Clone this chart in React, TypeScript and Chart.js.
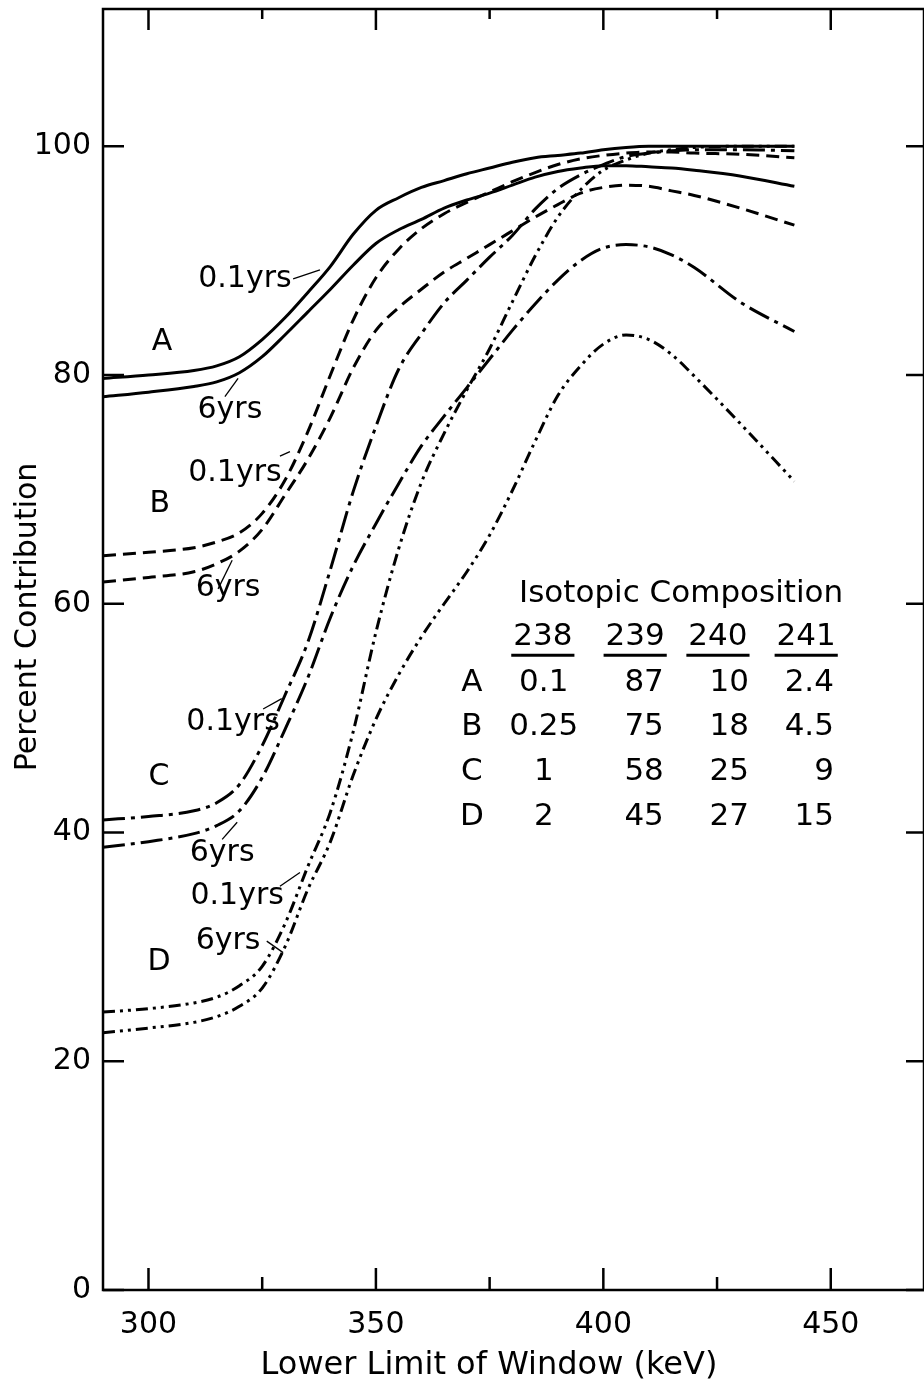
import React, { useEffect, useRef } from 'react';
import { Chart, registerables } from 'chart.js';

Chart.register(...registerables);

// ---- data ----
const KEV = [290, 300, 310, 315, 320, 325, 330, 335, 340, 345, 350, 355, 360, 365, 370, 375, 380, 385, 390, 395, 400, 405, 410, 415, 420, 430, 442];

const A_01 = [79.7, 80.0, 80.4, 80.8, 81.6, 83.1, 85.0, 87.2, 89.5, 92.3, 94.4, 95.5, 96.4, 97.0, 97.6, 98.1, 98.6, 99.0, 99.2, 99.4, 99.7, 99.9, 100, 100, 100, 100, 100];
const A_6 = [78.1, 78.5, 79.0, 79.4, 80.2, 81.6, 83.5, 85.5, 87.5, 89.6, 91.5, 92.7, 93.6, 94.6, 95.3, 95.9, 96.6, 97.3, 97.8, 98.1, 98.3, 98.3, 98.2, 98.1, 97.9, 97.4, 96.5];
const B_01 = [64.2, 64.5, 64.9, 65.4, 66.2, 67.9, 70.8, 75.0, 80.0, 84.8, 88.5, 91.0, 92.8, 94.1, 95.1, 96.0, 96.9, 97.7, 98.4, 98.9, 99.2, 99.4, 99.5, 99.5, 99.4, 99.3, 99.0];
const B_6 = [61.9, 62.3, 62.8, 63.5, 64.6, 66.5, 69.5, 72.6, 76.3, 80.6, 83.9, 85.9, 87.5, 89.0, 90.2, 91.4, 92.6, 93.8, 94.9, 95.9, 96.4, 96.6, 96.5, 96.1, 95.7, 94.6, 93.1];
const C_01 = [41.1, 41.4, 41.9, 42.6, 44.2, 47.6, 52.0, 56.6, 63.0, 69.8, 75.5, 80.5, 83.6, 86.3, 88.3, 90.3, 92.2, 94.5, 96.3, 97.5, 98.4, 99.1, 99.4, 99.6, 99.7, 99.7, 99.6];
const C_6 = [38.7, 39.2, 39.9, 40.6, 41.9, 44.8, 49.0, 53.5, 58.8, 63.3, 67.0, 70.5, 73.8, 76.4, 78.9, 81.4, 83.9, 86.2, 88.3, 90.0, 91.1, 91.4, 91.2, 90.5, 89.4, 86.4, 83.8];
const D_01 = [24.3, 24.6, 25.1, 25.6, 26.6, 28.3, 32.0, 37.0, 41.8, 48.8, 57.5, 64.8, 70.6, 74.9, 78.7, 82.3, 86.4, 90.4, 93.8, 96.2, 97.9, 98.8, 99.4, 99.7, 99.9, 100, 100];
const D_6 = [22.5, 22.9, 23.4, 23.9, 24.8, 26.4, 30.0, 35.0, 39.2, 45.0, 49.9, 53.8, 57.1, 60.0, 62.8, 66.0, 69.9, 74.2, 78.2, 80.8, 82.7, 83.5, 83.1, 81.8, 79.9, 75.8, 70.7];

const X_LABEL_TICKS = [300, 350, 400, 450];
const X_MINOR_TICKS = [325, 375, 425];
const Y_TICKS = [0, 20, 40, 60, 80, 100];

const TABLE_TITLE = 'Isotopic Composition';
const TABLE_HEADERS = ['238', '239', '240', '241'];
const TABLE_ROWS = ['A', 'B', 'C', 'D'];
const TABLE_238 = ['0.1', '0.25', '1', '2'];
const TABLE_239 = ['87', '75', '58', '45'];
const TABLE_240 = ['10', '18', '25', '27'];
const TABLE_241 = ['2.4', '4.5', '9', '15'];

const X_TITLE = 'Lower Limit of Window (keV)';
const Y_TITLE = 'Percent Contribution';

// ---- styling / layout ----
const FONT = '"DejaVu Sans", sans-serif';
const SERIES = [
  { label: 'A 0.1yrs', values: A_01, dash: [] as number[] },
  { label: 'A 6yrs', values: A_6, dash: [] as number[] },
  { label: 'B 0.1yrs', values: B_01, dash: [13, 7] },
  { label: 'B 6yrs', values: B_6, dash: [13, 7] },
  { label: 'C 0.1yrs', values: C_01, dash: [22, 6, 4, 6] },
  { label: 'C 6yrs', values: C_6, dash: [22, 6, 4, 6] },
  { label: 'D 0.1yrs', values: D_01, dash: [12, 5, 3, 5, 3, 5] },
  { label: 'D 6yrs', values: D_6, dash: [12, 5, 3, 5, 3, 5] },
];

// curve labels (data coordinates)
const CURVE_LABELS = [
  { text: '0.1yrs', x: 321.2, y: 88.4 },
  { text: 'A', x: 303.0, y: 82.9 },
  { text: '6yrs', x: 317.9, y: 76.9 },
  { text: '0.1yrs', x: 319.0, y: 71.4 },
  { text: 'B', x: 302.5, y: 68.7 },
  { text: '6yrs', x: 317.5, y: 61.4 },
  { text: '0.1yrs', x: 318.6, y: 49.6 },
  { text: 'C', x: 302.3, y: 44.8 },
  { text: '6yrs', x: 316.2, y: 38.2 },
  { text: '0.1yrs', x: 319.5, y: 34.4 },
  { text: '6yrs', x: 317.5, y: 30.5 },
  { text: 'D', x: 302.3, y: 28.7 },
];
const LEADERS = [
  [331.8, 88.4, 337.7, 89.2],
  [316.8, 78.1, 319.7, 79.7],
  [328.9, 72.9, 331.1, 73.3],
  [315.3, 61.3, 318.4, 63.8],
  [325.2, 50.8, 329.3, 51.7],
  [316.2, 39.4, 319.5, 40.9],
  [328.9, 35.3, 333.3, 36.5],
  [326.0, 30.5, 329.6, 29.5],
];

const overlayPlugin = {
  id: 'overlay',
  afterDraw(chart: any) {
    const { ctx, chartArea: a, scales } = chart;
    const xs = scales.x;
    const ys = scales.y;
    const X = (v: number) => xs.getPixelForValue(v);
    const Y = (v: number) => ys.getPixelForValue(v);
    ctx.save();
    ctx.strokeStyle = '#000';
    ctx.fillStyle = '#000';
    ctx.lineCap = 'butt';
    ctx.lineWidth = 2.5;
    ctx.strokeRect(a.left, a.top, a.right - a.left, a.bottom - a.top);
    const seg = (x1: number, y1: number, x2: number, y2: number) => {
      ctx.beginPath();
      ctx.moveTo(x1, y1);
      ctx.lineTo(x2, y2);
      ctx.stroke();
    };
    X_LABEL_TICKS.forEach((v) => {
      const px = X(v);
      seg(px, a.bottom, px, a.bottom - 22);
      seg(px, a.top, px, a.top + 21);
    });
    X_MINOR_TICKS.forEach((v) => {
      const px = X(v);
      seg(px, a.bottom, px, a.bottom - 13);
      seg(px, a.top, px, a.top + 10);
    });
    Y_TICKS.forEach((v) => {
      const py = Y(v);
      seg(a.left, py, a.left + 21, py);
      seg(a.right, py, a.right - 18, py);
    });

    // curve labels
    ctx.font = `30px ${FONT}`;
    ctx.textAlign = 'center';
    ctx.textBaseline = 'middle';
    CURVE_LABELS.forEach((l) => ctx.fillText(l.text, X(l.x), Y(l.y)));
    ctx.lineWidth = 1.3;
    LEADERS.forEach((s) => seg(X(s[0]), Y(s[1]), X(s[2]), Y(s[3])));

    // table
    ctx.font = `31px ${FONT}`;
    ctx.textAlign = 'center';
    ctx.fillText(TABLE_TITLE, X(417.1), Y(60.9));
    const headerX = [386.7, 407.0, 425.2, 444.6];
    ctx.lineWidth = 3;
    TABLE_HEADERS.forEach((h, i) => {
      ctx.textAlign = 'center';
      ctx.fillText(h, X(headerX[i]), Y(57.1));
      const w = ctx.measureText(h).width;
      seg(X(headerX[i]) - w / 2 - 2, Y(55.5), X(headerX[i]) + w / 2 + 2, Y(55.5));
    });
    const rowY = [53.1, 49.2, 45.3, 41.4];
    TABLE_ROWS.forEach((r, i) => {
      const py = Y(rowY[i]);
      ctx.textAlign = 'center';
      ctx.fillText(r, X(371.1), py);
      ctx.fillText(TABLE_238[i], X(386.9), py);
      ctx.textAlign = 'right';
      ctx.fillText(TABLE_239[i], X(413.3), py);
      ctx.fillText(TABLE_240[i], X(432.0), py);
      ctx.fillText(TABLE_241[i], X(450.7), py);
    });

    // axis titles
    ctx.font = `32px ${FONT}`;
    ctx.textAlign = 'center';
    ctx.fillText(X_TITLE, 489, 1366);
    ctx.save();
    ctx.translate(28, 617);
    ctx.rotate(-Math.PI / 2);
    ctx.font = `30px ${FONT}`;
    ctx.fillText(Y_TITLE, 0, 0);
    ctx.restore();
    ctx.restore();
  },
};

export default function App() {
  const ref = useRef<HTMLCanvasElement | null>(null);
  useEffect(() => {
    document.body.style.margin = '0';
    const canvas = ref.current;
    if (!canvas) return;
    const tickFont = { family: FONT, size: 30 };
    const chart = new Chart(canvas, {
      type: 'line',
      data: {
        datasets: SERIES.map((s) => ({
          label: s.label,
          data: KEV.map((x, i) => ({ x, y: s.values[i] })),
          borderColor: '#000',
          borderWidth: 3,
          borderDash: s.dash,
          pointRadius: 0,
          fill: false,
          cubicInterpolationMode: 'monotone' as const,
        })),
      },
      options: {
        responsive: false,
        animation: false,
        layout: { padding: { top: 9, right: 0, bottom: 0, left: 0 } },
        plugins: { legend: { display: false }, tooltip: { enabled: false } },
        scales: {
          x: {
            type: 'linear',
            min: 290,
            max: 470.5,
            grid: { display: false, drawTicks: false },
            border: { display: false },
            ticks: { stepSize: 50, includeBounds: false, padding: 17, color: '#000', font: tickFont, maxRotation: 0 },
            afterFit: (s: any) => {
              s.height = 95;
              s.paddingLeft = 0;
              s.paddingRight = 0;
            },
          },
          y: {
            type: 'linear',
            min: 0,
            max: 112,
            grid: { display: false, drawTicks: false },
            border: { display: false },
            ticks: { stepSize: 20, includeBounds: false, padding: 12, color: '#000', font: tickFont },
            afterFit: (s: any) => {
              s.width = 103;
              s.paddingTop = 0;
              s.paddingBottom = 0;
            },
          },
        },
      },
      plugins: [overlayPlugin],
    } as any);
    return () => chart.destroy();
  }, []);
  return <canvas ref={ref} width={924} height={1385} style={{ display: 'block', width: 924, height: 1385 }} />;
}
